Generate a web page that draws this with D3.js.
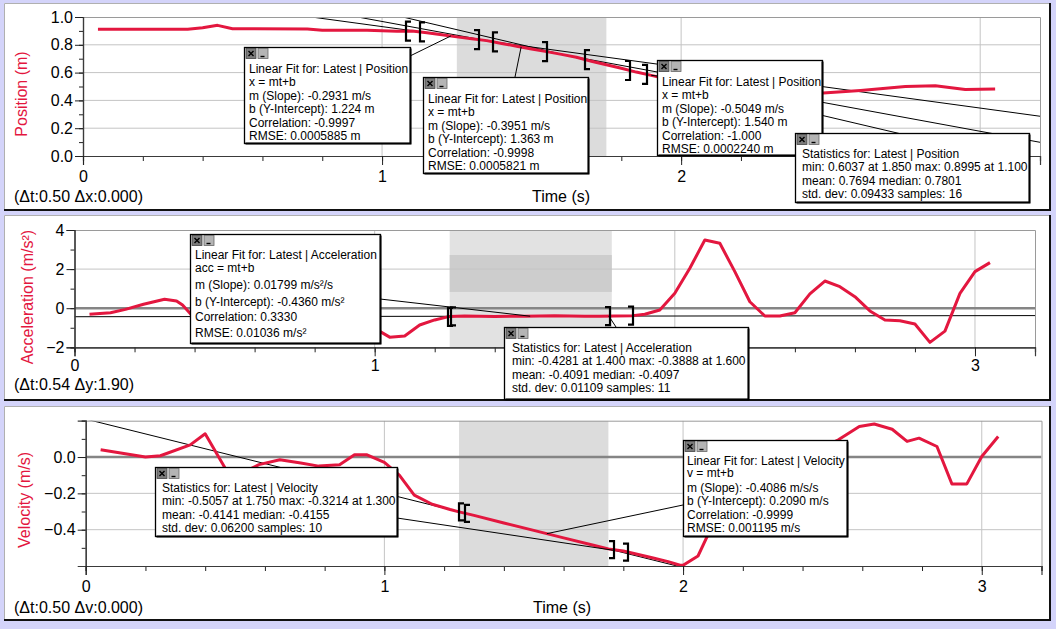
<!DOCTYPE html>
<html><head><meta charset="utf-8">
<script src="https://cdn.jsdelivr.net/npm/d3@7"></script>
<style>
body{margin:0;background:#d4d4fa;}
svg{display:block;}
</style></head>
<body><svg id="c" width="1056" height="629"></svg>
<script>
// ================= DATA =================
const timeDomain = [0, 3.2];

const posTime  = [0.05,0.30,0.35,0.40,0.45,0.50,0.75,0.80,0.95,1.05,1.10,1.15,1.20,1.25,1.30,1.35,1.40,1.45,1.50,1.55,1.60,1.65,1.70,1.75,1.80,1.85,1.90,1.95,2.00,2.05,2.10,2.20,2.30,2.45,2.60,2.75,2.85,2.95,3.05];
const posValue = [0.911,0.911,0.912,0.922,0.940,0.916,0.914,0.904,0.904,0.898,0.8995,0.887,0.872,0.857,0.843,0.830,0.810,0.790,0.770,0.751,0.731,0.710,0.682,0.656,0.631,0.6037,0.580,0.556,0.530,0.505,0.482,0.460,0.450,0.450,0.472,0.500,0.505,0.478,0.482];

const accTime  = [0.05,0.12,0.17,0.23,0.30,0.34,0.36,0.39,0.45,0.55,0.70,0.85,0.95,1.00,1.05,1.10,1.15,1.20,1.25,1.30,1.35,1.40,1.45,1.50,1.55,1.60,1.65,1.70,1.75,1.80,1.86,1.90,1.95,2.00,2.05,2.10,2.15,2.20,2.25,2.30,2.35,2.40,2.45,2.50,2.55,2.60,2.65,2.70,2.75,2.80,2.85,2.90,2.95,3.00,3.05];
const accValue = [-0.31,-0.23,-0.06,0.20,0.455,0.37,0.16,-0.35,-1.0,-1.3,-0.9,-0.6,-0.8,-1.03,-1.48,-1.42,-0.86,-0.60,-0.42,-0.405,-0.41,-0.4281,-0.415,-0.41,-0.405,-0.3888,-0.40,-0.41,-0.41,-0.40,-0.38,-0.31,-0.09,0.76,2.04,3.49,3.32,1.87,0.33,-0.40,-0.40,-0.23,0.73,1.39,1.10,0.59,-0.14,-0.60,-0.64,-0.81,-1.75,-1.17,0.76,1.87,2.33];

const velTime  = [0.05,0.20,0.25,0.35,0.40,0.47,0.52,0.58,0.65,0.72,0.78,0.85,0.90,0.94,1.00,1.05,1.10,1.16,1.22,1.25,1.30,1.40,1.50,1.60,1.70,1.75,1.80,1.85,1.90,1.95,1.99,2.00,2.05,2.08,2.15,2.25,2.35,2.45,2.52,2.59,2.64,2.70,2.75,2.79,2.85,2.90,2.95,3.00,3.055];
const velValue = [0.04,0.0,0.007,0.067,0.128,-0.07,-0.09,-0.042,-0.015,-0.033,-0.05,-0.042,0.013,0.013,-0.03,-0.10,-0.21,-0.26,-0.289,-0.302,-0.3214,-0.363,-0.404,-0.445,-0.486,-0.5057,-0.517,-0.537,-0.556,-0.576,-0.596,-0.596,-0.545,-0.44,-0.25,-0.08,0.0,0.04,0.095,0.168,0.182,0.153,0.086,0.104,0.058,-0.148,-0.148,0.003,0.113];

// linear fits
const posFitSlope     = [-0.2931, -0.3951, -0.5049];
const posFitIntercept = [1.224, 1.363, 1.540];
const accFitSlope = 0.01799,  accFitIntercept = -0.4360;
const velFitSlope = -0.4086,  velFitIntercept = 0.2090;

// selections (shaded time range)
const posSelection = [1.25, 1.75];
const accSelection = [1.25, 1.79];
const accBand      = [0.83, 2.72];
const velSelection = [1.25, 1.75];

// brackets: [time, type]
const posBrackets = [[1.080,"["],[1.127,"["],[1.324,"]"],[1.371,"["],[1.552,"]"],[1.679,"["],[1.829,"]"],[1.886,"]"]];
const accBrackets = [[1.243,"["],[1.253,"["],[1.785,"]"],[1.861,"]"]];
const velBrackets = [[1.251,"["],[1.270,"["],[1.769,"]"],[1.817,"]"]];

// tick labels
const posYTicks = [0, 0.2, 0.4, 0.6, 0.8, 1.0];
const accYTicks = [-2, 0, 2, 4];
const velYTicks = [-0.4, -0.2, 0.0];
const timeTicks = [0, 1, 2, 3];
const posTimeLabels = [0, 1, 2];      // "3" is covered by the statistics box
const accTimeLabels = [0, 1, 3];      // "2" is covered by the statistics box
const velTimeLabels = [0, 1, 2, 3];

// annotation texts
const posFit1Text = ["Linear Fit for: Latest | Position","x = mt+b","m (Slope): -0.2931 m/s","b (Y-Intercept): 1.224 m","Correlation: -0.9997","RMSE: 0.0005885 m"];
const posFit2Text = ["Linear Fit for: Latest | Position","x = mt+b","m (Slope): -0.3951 m/s","b (Y-Intercept): 1.363 m","Correlation: -0.9998","RMSE: 0.0005821 m"];
const posFit3Text = ["Linear Fit for: Latest | Position","x = mt+b","m (Slope): -0.5049 m/s","b (Y-Intercept): 1.540 m","Correlation: -1.000","RMSE: 0.0002240 m"];
const posStatText = ["Statistics for: Latest | Position","min: 0.6037 at 1.850 max: 0.8995 at 1.100","mean: 0.7694 median: 0.7801","std. dev: 0.09433 samples: 16"];
const accFitText  = ["Linear Fit for: Latest | Acceleration","acc = mt+b","m (Slope): 0.01799 m/s²/s","b (Y-Intercept): -0.4360 m/s²","Correlation: 0.3330","RMSE: 0.01036 m/s²"];
const accStatText = ["Statistics for: Latest | Acceleration","min: -0.4281 at 1.400 max: -0.3888 at 1.600","mean: -0.4091 median: -0.4097","std. dev: 0.01109 samples: 11"];
const velStatText = ["Statistics for: Latest | Velocity","min: -0.5057 at 1.750 max: -0.3214 at 1.300","mean: -0.4141 median: -0.4155","std. dev: 0.06200 samples: 10"];
const velFitText  = ["Linear Fit for: Latest | Velocity","v = mt+b","m (Slope): -0.4086 m/s/s","b (Y-Intercept): 0.2090 m/s","Correlation: -0.9999","RMSE: 0.001195 m/s"];

// ================= DRAWING =================
const FONT = '"Liberation Sans", Arial, Helvetica, sans-serif';
const RED = "#e3173f";
const svg = d3.select("#c").attr("font-family", FONT);
const defs = svg.append("defs");

function panelFrame(x, y, w, h){
  svg.append("rect").attr("x",x).attr("y",y).attr("width",w).attr("height",h).attr("fill","#fff");
  svg.append("path").attr("d",`M${x+0.5},${y+h} V${y+0.5} H${x+w}`).attr("stroke","#b0b0b0").attr("fill","none");
  svg.append("path").attr("d",`M${x},${y+h-1} H${x+w-1} V${y}`).attr("stroke","#111").attr("stroke-width",2).attr("fill","none");
}

function makePlot(cfg){
  const x = d3.scaleLinear().domain(timeDomain).range(cfg.xr);
  const y = d3.scaleLinear().domain(cfg.yDom).range(cfg.yr);
  const g = svg.append("g");
  const id = "clip" + cfg.name;
  defs.append("clipPath").attr("id", id).append("rect")
    .attr("x", cfg.xr[0]).attr("y", cfg.yr[1]).attr("width", cfg.xr[1]-cfg.xr[0]).attr("height", cfg.yr[0]-cfg.yr[1]);
  const inner = g.append("g").attr("clip-path", `url(#${id})`);
  if (cfg.sel){
    inner.append("rect").attr("x", x(cfg.sel[0])).attr("width", x(cfg.sel[1])-x(cfg.sel[0]))
      .attr("y", cfg.yr[1]).attr("height", cfg.yr[0]-cfg.yr[1]).attr("fill", cfg.selColor || "#dcdcdc");
  }
  if (cfg.band){
    inner.append("rect").attr("x", x(cfg.sel[0])).attr("width", x(cfg.sel[1])-x(cfg.sel[0]))
      .attr("y", y(cfg.band[1])).attr("height", y(cfg.band[0])-y(cfg.band[1])).attr("fill", "#cdcdcd");
  }
  inner.selectAll(".gx").data([1,2,3]).join("line")
    .attr("x1", d=>x(d)).attr("x2", d=>x(d)).attr("y1", cfg.yr[0]).attr("y2", cfg.yr[1])
    .attr("stroke","#c4c4c4").attr("stroke-width",1);
  inner.selectAll(".gy").data(cfg.gridY).join("line")
    .attr("x1", cfg.xr[0]).attr("x2", cfg.xr[1]).attr("y1", d=>y(d)).attr("y2", d=>y(d))
    .attr("stroke","#c4c4c4").attr("stroke-width",1);
  if (cfg.zero){
    inner.append("line").attr("x1", cfg.xr[0]).attr("x2", cfg.xr[1]).attr("y1", y(0)).attr("y2", y(0))
      .attr("stroke","#858585").attr("stroke-width",2.5);
  }
  g.append("path").attr("d", `M${cfg.xr[0]},${cfg.yr[1]+0.5} H${cfg.xr[1]+0.5} V${cfg.yr[0]}`)
    .attr("stroke","#9a9a9a").attr("fill","none");
  const yMinor = d3.axisLeft(y).tickValues(cfg.yMinor).tickSize(4).tickFormat("");
  const yMajor = d3.axisLeft(y).tickValues(cfg.yTicks).tickSize(8).tickPadding(2).tickFormat(cfg.yFmt);
  const xMinor = d3.axisBottom(x).tickValues(d3.range(0, 3.21, 0.2)).tickSize(5).tickFormat("");
  const xMajor = d3.axisBottom(x).tickValues(timeTicks).tickSize(9).tickPadding(cfg.xPad || 6)
    .tickFormat(d => cfg.xLabels.includes(d) ? d3.format("d")(d) : "");
  [[yMinor,"y"],[yMajor,"y"],[xMinor,"x"],[xMajor,"x"]].forEach(([ax,k])=>{
    const a = g.append("g").attr("transform", k==="y" ? `translate(${cfg.xr[0]},0)` : `translate(0,${cfg.yr[0]})`).call(ax);
    a.select(".domain").attr("stroke","#3a3a3a").attr("stroke-width",1.2);
    a.selectAll(".tick line").attr("stroke","#222");
    a.selectAll("text").attr("font-size",16).attr("fill","#000").attr("font-family",FONT);
    a.selectAll("text").filter(function(){ return this.textContent === ""; }).remove();
  });
  return {x, y, g, inner};
}

function drawLine(P, t, v){
  P.inner.append("path").datum(d3.zip(t, v))
    .attr("d", d3.line().x(d=>P.x(d[0])).y(d=>P.y(d[1])))
    .attr("fill","none").attr("stroke",RED).attr("stroke-width",3).attr("stroke-linejoin","round");
}
function drawFit(P, m, b){
  P.inner.append("path").datum(timeDomain)
    .attr("d", d3.line().x(d=>P.x(d)).y(d=>P.y(m*d+b)))
    .attr("fill","none").attr("stroke","#000").attr("stroke-width",1);
}
function drawBrackets(P, list, t, v, h){
  const interp = d3.scaleLinear().domain(t).range(v);
  list.forEach(([bt, type])=>{
    const px = Math.round(P.x(bt)), py = P.y(interp(bt));
    const s = type==="[" ? 5 : -5;
    P.g.append("path").attr("d", `M${px+s},${py-h/2} H${px} V${py+h/2} H${px+s}`)
      .attr("fill","none").attr("stroke","#000").attr("stroke-width",2.2);
  });
}
function leader(P, bx, by, t, val){
  P.g.append("line").attr("x1",bx).attr("y1",by).attr("x2",P.x(t)).attr("y2",P.y(val))
    .attr("stroke","#000").attr("stroke-width",1);
}
function drawBox(b, lines, offs){
  const g = svg.append("g");
  g.append("rect").attr("x",b.x+0.5).attr("y",b.y+0.5).attr("width",b.w).attr("height",b.h)
    .attr("fill","#fff").attr("stroke","#000").attr("stroke-width",1.3);
  g.append("path").attr("d",`M${b.x+1.5},${b.y+b.h+0.5} H${b.w+b.x+0.5} V${b.y+1.5}`)
    .attr("fill","none").attr("stroke","#000").attr("stroke-width",2);
  const ix = b.x+2, iy = b.y+1.5;
  g.append("rect").attr("x",ix).attr("y",iy).attr("width",10).attr("height",10).attr("fill","#7c7c7c").attr("stroke","#444").attr("stroke-width",0.8);
  g.append("path").attr("d",`M${ix+2.5},${iy+2.5} L${ix+7.5},${iy+7.5} M${ix+7.5},${iy+2.5} L${ix+2.5},${iy+7.5}`).attr("stroke","#000").attr("stroke-width",1.4);
  g.append("rect").attr("x",ix+12).attr("y",iy).attr("width",10).attr("height",10).attr("fill","#b4b4b4").attr("stroke","#666").attr("stroke-width",0.8);
  g.append("line").attr("x1",ix+14.5).attr("x2",ix+18.5).attr("y1",iy+8).attr("y2",iy+8).attr("stroke","#000").attr("stroke-width",1.4);
  lines.forEach((s,i)=>{
    g.append("text").attr("x", b.x + b.tx).attr("y", b.y + offs[i]).attr("dominant-baseline","central")
      .attr("font-size",12).attr("fill","#000").text(s);
  });
}
function label(txt, x, y, opts={}){
  const t = svg.append("text").attr("x",x).attr("y",y).attr("dominant-baseline","central")
    .attr("font-size",16).attr("fill",opts.fill||"#000").attr("text-anchor",opts.anchor||"start").text(txt);
  if (opts.rotate) t.attr("transform",`rotate(-90,${x},${y})`).attr("text-anchor","middle");
  return t;
}
const fitOffs  = [22, 35.4, 48.8, 62.2, 75.6, 89];
const statOffs = [20.5, 33.8, 47.5, 60.5];

// ---------- Panel 1: Position ----------
panelFrame(4, 3, 1047, 208);
const P1 = makePlot({name:"p", xr:[83,1040], yr:[156,17], yDom:[0,1], sel:posSelection, xLabels:posTimeLabels,
  gridY:[0.2,0.4,0.6,0.8], yTicks:posYTicks, yMinor:d3.range(0,1.01,0.1), yFmt:d3.format(".1f")});
posFitSlope.forEach((m,i)=>drawFit(P1, m, posFitIntercept[i]));
drawLine(P1, posTime, posValue);
drawBrackets(P1, posBrackets, posTime, posValue, 19);
leader(P1, 410, 56, 1.23, posFitSlope[0]*1.23+posFitIntercept[0]);
leader(P1, 515, 77, 1.465, posFitSlope[1]*1.465+posFitIntercept[1]);
leader(P1, 657, 76, 1.90, posFitSlope[2]*1.90+posFitIntercept[2]);
label("Position (m)", 21, 94, {fill:RED, rotate:true});
label("Time (s)", 561, 196, {anchor:"middle"});
label("(Δt:0.50 Δx:0.000)", 14, 196);
drawBox({x:244,y:47,w:166,h:96,tx:5}, posFit1Text, fitOffs);
drawBox({x:423,y:77,w:165,h:96,tx:5}, posFit2Text, fitOffs);
drawBox({x:657,y:60,w:165,h:95,tx:5}, posFit3Text, fitOffs);
drawBox({x:795,y:133,w:234,h:69,tx:7}, posStatText, statOffs);

// ---------- Panel 2: Acceleration ----------
panelFrame(4, 215, 1047, 186);
const P2 = makePlot({name:"a", xr:[74.5,1035], yr:[347.3,230], yDom:[-2,4], sel:accSelection, selColor:"#e2e2e2", band:accBand, xLabels:accTimeLabels, xPad:3,
  gridY:[2], zero:true, yTicks:accYTicks, yMinor:d3.range(-2,4.01,1), yFmt:d3.format("d")});
drawFit(P2, accFitSlope, accFitIntercept);
drawLine(P2, accTime, accValue);
drawBrackets(P2, accBrackets, accTime, accValue, 18);
leader(P2, 380, 299, 1.518, accFitSlope*1.518+accFitIntercept);
leader(P2, 616, 327, 1.78, -0.40);
label("Acceleration (m/s²)", 27, 297, {fill:RED, rotate:true});
label("(Δt:0.54 Δy:1.90)", 14, 384);
drawBox({x:190,y:234,w:190,h:109,tx:5}, accFitText, [21, 34.3, 51, 68.3, 83.3, 99.3]);
drawBox({x:504,y:327,w:244,h:72,tx:8}, accStatText, [20.7, 34, 48, 60.7]);

// ---------- Panel 3: Velocity ----------
panelFrame(4, 406, 1047, 215);
const P3 = makePlot({name:"v", xr:[85.7,1041.5], yr:[566,420.7], yDom:[-0.6,0.2], sel:velSelection, xLabels:velTimeLabels,
  gridY:[-0.4,-0.2], zero:true, yTicks:velYTicks, yMinor:d3.range(-0.6,0.21,0.1), yFmt:d3.format(".1f")});
drawFit(P3, velFitSlope, velFitIntercept);
drawLine(P3, velTime, velValue);
drawBrackets(P3, velBrackets, velTime, velValue, 17);
leader(P3, 683, 505, 1.544, velFitSlope*1.544+velFitIntercept);
leader(P3, 397, 518, 1.765, -0.513);
label("Velocity (m/s)", 24, 500, {fill:RED, rotate:true});
label("Time (s)", 562, 607, {anchor:"middle"});
label("(Δt:0.50 Δv:0.000)", 14, 607);
drawBox({x:155,y:467,w:242,h:69,tx:7}, velStatText, [20.7, 33.7, 48, 60.7]);
drawBox({x:683,y:440,w:164,h:96,tx:4}, velFitText, [21, 33.3, 48.3, 60.7, 75, 87.7]);
</script>
</body></html>
